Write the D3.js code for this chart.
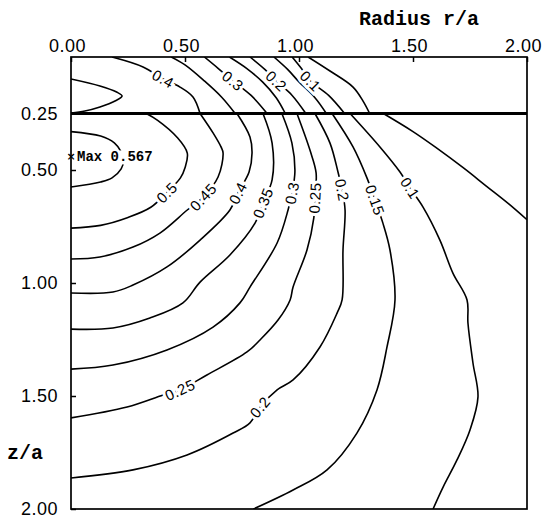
<!DOCTYPE html>
<html>
<head>
<meta charset="utf-8">
<script src="https://cdn.jsdelivr.net/npm/d3@7"></script>
<style>
  body { margin: 0; background: #fff; }
  svg { display: block; }
</style>
</head>
<body>
<div id="chart"></div>
<script>
// axis ticks
var rTicks = [0, 0.5, 1, 1.5, 2];
var zTicks = [0.25, 0.5, 1, 1.5, 2];
var interfaceZ = 0.25;

// maximum
var maxPoint = [0, 0.44];
var maxValue = 0.567;

// contour lines above the interface, points are [r/a, z/a]
var upperContours = [
    { level: 0.45, pts: [[0, .097], [.127, .128], [.20, .155], [.224, .173], [.193, .195], [.127, .221], [.061, .239], [0, .248]] },
    { level: 0.4,  pts: [[.18, 0], [.316, .044], [.404, .097], [.478, .133], [.535, .177], [.566, .25]] },
    { level: 0.35, pts: [[.44, 0], [.50, .035], [.585, .106], [.66, .177], [.72, .25]] },
    { level: 0.3,  pts: [[.585, 0], [.645, .05], [.71, .106], [.79, .17], [.86, .25]] },
    { level: 0.25, pts: [[.695, 0], [.77, .05], [.84, .11], [.90, .18], [.94, .25]] },
    { level: 0.2,  pts: [[.785, 0], [.85, .055], [.90, .106], [.97, .17], [1.03, .25]] },
    { level: 0.15, pts: [[.89, 0], [.95, .055], [1.0, .11], [1.07, .18], [1.12, .25]] },
    { level: 0.1,  pts: [[.97, 0], [1.01, .05], [1.05, .106], [1.13, .17], [1.20, .25]] },
    { level: 0.05, pts: [[1.04, 0], [1.136, .062], [1.237, .133], [1.281, .195], [1.31, .25]] }
];

// contour lines below the interface
var lowerContours = [
    { level: 0.55, pts: [[0, .33], [.13, .35], [.19, .38], [.22, .42], [.23, .46], [.22, .495], [.18, .535], [.13, .553], [0, .575]] },
    { level: 0.5,  pts: [[.33, .25], [.38, .28], [.465, .355], [.51, .425], [.50, .49], [.48, .535], [.42, .60], [.35, .665], [.25, .71], [.13, .745], [0, .757]] },
    { level: 0.45, pts: [[.566, .25], [.623, .336], [.658, .398], [.667, .425], [.645, .531], [.58, .62], [.51, .677], [.39, .779], [.272, .841], [.127, .885], [0, .894]] },
    { level: 0.4,  pts: [[.728, .25], [.785, .354], [.794, .425], [.781, .509], [.732, .602], [.697, .677], [.566, .81], [.421, .929], [.272, 1.009], [.184, 1.04], [0, 1.044]] },
    { level: 0.35, pts: [[.842, .25], [.882, .381], [.882, .544], [.842, .646], [.807, .735], [.697, .876], [.566, .996], [.491, 1.088], [.346, 1.155], [.184, 1.199], [0, 1.204]] },
    { level: 0.3,  pts: [[.925, .25], [.969, .381], [.982, .509], [.969, .602], [.952, .677], [.904, .823], [.785, 1.018], [.741, 1.088], [.623, 1.195], [.421, 1.296], [.184, 1.363], [0, 1.381]] },
    { level: 0.25, pts: [[.991, .25], [1.048, .412], [1.075, .513], [1.07, .624], [1.065, .712], [1.035, .854], [.974, 1.018], [.961, 1.075], [.908, 1.164], [.829, 1.252], [.772, 1.305], [.596, 1.407], [.478, 1.473], [.404, 1.496], [.246, 1.549], [0, 1.597]] },
    { level: 0.2,  pts: [[1.07, .25], [1.136, .381], [1.171, .509], [1.189, .588], [1.202, .677], [1.193, .854], [1.189, 1.075], [1.167, 1.133], [1.092, 1.283], [.974, 1.429], [.904, 1.473], [.829, 1.549], [.785, 1.619], [.711, 1.664], [.509, 1.761], [.272, 1.827], [0, 1.863]] },
    { level: 0.15, pts: [[1.145, .25], [1.237, .398], [1.298, .535], [1.333, .633], [1.368, .735], [1.399, .854], [1.421, 1.075], [1.386, 1.283], [1.342, 1.473], [1.254, 1.664], [1.123, 1.827], [.974, 1.916], [.80, 2.0]] },
    { level: 0.1,  pts: [[1.224, .25], [1.355, .398], [1.443, .509], [1.487, .58], [1.544, .664], [1.618, .81], [1.675, .956], [1.737, 1.075], [1.741, 1.177], [1.763, 1.354], [1.785, 1.504], [1.75, 1.65], [1.693, 1.783], [1.632, 1.903], [1.588, 2.0]] },
    { level: 0.05, pts: [[1.37, .25], [1.5, .33], [1.6, .40], [1.72, .49], [1.82, .57], [1.92, .65], [2.0, .72]] }
];

// contour labels: [level, r/a, z/a]
var upperLabels = [[0.4, .404, .097], [0.3, .71, .106], [0.2, .90, .106], [0.1, 1.05, .106]];
var lowerLabels = [[0.5, .42, .60], [0.45, .58, .62], [0.4, .732, .602], [0.35, .842, .646], [0.3, .969, .602],
    [0.25, 1.07, .624], [0.2, 1.189, .588], [0.15, 1.333, .633], [0.1, 1.487, .58], [0.25, .478, 1.473], [0.2, .829, 1.549]];

var W = 542, H = 520,
    margin = { top: 57, left: 71, right: 15, bottom: 11 };

var x = d3.scaleLinear().domain([0, 2]).range([margin.left, W - margin.right]);
var y = d3.scaleLinear().domain([0, 2]).range([margin.top, H - margin.bottom]);

var svg = d3.select("#chart").append("svg")
    .attr("width", W)
    .attr("height", H);

svg.append("clipPath").attr("id", "plot")
    .append("rect")
    .attr("x", x(0)).attr("y", y(0))
    .attr("width", x(2) - x(0)).attr("height", y(2) - y(0));

var line = d3.line()
    .x(function(d) { return x(d[0]); })
    .y(function(d) { return y(d[1]); })
    .curve(d3.curveCatmullRom.alpha(0.5));

var lines = svg.append("g").attr("clip-path", "url(#plot)");

lines.selectAll(".upper")
    .data(upperContours)
    .enter().append("path")
    .attr("class", "upper")
    .attr("d", function(d) { return line(d.pts); })
    .attr("fill", "none").attr("stroke", "#000").attr("stroke-width", 1.6);

lines.selectAll(".lower")
    .data(lowerContours)
    .enter().append("path")
    .attr("class", "lower")
    .attr("d", function(d) { return line(d.pts); })
    .attr("fill", "none").attr("stroke", "#000").attr("stroke-width", 1.6);

// interface line
svg.append("line")
    .attr("x1", x(0)).attr("x2", x(2))
    .attr("y1", y(interfaceZ)).attr("y2", y(interfaceZ))
    .attr("stroke", "#000").attr("stroke-width", 3);

// frame
svg.append("rect")
    .attr("x", x(0)).attr("y", y(0))
    .attr("width", x(2) - x(0)).attr("height", y(2) - y(0))
    .attr("fill", "none").attr("stroke", "#000").attr("stroke-width", 1.7);

// angle of the contour near a label, kept readable
function angleAt(pts, r, z) {
    var best = 0, bd = Infinity;
    pts.forEach(function(p, i) {
        var d = (p[0] - r) * (p[0] - r) + (p[1] - z) * (p[1] - z);
        if (d < bd) { bd = d; best = i; }
    });
    var a = pts[Math.max(best - 1, 0)], b = pts[Math.min(best + 1, pts.length - 1)];
    var ang = Math.atan2(y(b[1]) - y(a[1]), x(b[0]) - x(a[0])) * 180 / Math.PI;
    if (ang > 90) ang -= 180;
    if (ang <= -90) ang += 180;
    return ang;
}

function drawLabels(labels, contours) {
    labels.forEach(function(l) {
        var c = contours.filter(function(c) { return c.level === l[0]; })[0];
        var ang = angleAt(c.pts, l[1], l[2]);
        svg.append("text")
            .attr("transform", "translate(" + x(l[1]) + "," + y(l[2]) + ") rotate(" + ang + ")")
            .attr("text-anchor", "middle")
            .attr("dy", "0.36em")
            .style("font-family", "'Liberation Sans', Arial, sans-serif")
            .style("font-size", "15px")
            .style("letter-spacing", "0.5px")
            .style("paint-order", "stroke")
            .attr("stroke", "#fff").attr("stroke-width", 6)
            .attr("fill", "#000")
            .text(String(l[0]));
    });
}
drawLabels(upperLabels, upperContours);
drawLabels(lowerLabels, lowerContours);

// maximum marker, the text hides the innermost contour behind it
var maxG = svg.append("g");
var maxText = maxG.append("text")
    .attr("x", x(maxPoint[0]) + 6)
    .attr("y", y(maxPoint[1]) + 5)
    .style("font-family", "'Liberation Mono', monospace")
    .style("font-weight", "bold")
    .style("font-size", "14px")
    .text("Max " + maxValue.toFixed(3));
var bb = maxText.node().getBBox();
maxG.insert("rect", "text")
    .attr("x", bb.x - 1).attr("y", bb.y + 1)
    .attr("width", bb.width + 2).attr("height", bb.height - 2)
    .attr("fill", "#fff");
svg.append("text")
    .attr("x", x(maxPoint[0]))
    .attr("y", y(maxPoint[1]))
    .attr("dy", "0.35em")
    .attr("text-anchor", "middle")
    .style("font-family", "'DejaVu Sans', sans-serif")
    .style("font-weight", "bold")
    .style("font-size", "11px")
    .text("×");

// axes
var xAxis = svg.append("g")
    .attr("transform", "translate(0," + y(0) + ")")
    .call(d3.axisTop(x).tickValues(rTicks).tickFormat(d3.format(".2f"))
        .tickSizeInner(-5).tickSizeOuter(0).tickPadding(5));

var yAxis = svg.append("g")
    .attr("transform", "translate(" + x(0) + ",0)")
    .call(d3.axisLeft(y).tickValues(zTicks).tickFormat(d3.format(".2f"))
        .tickSizeInner(-5).tickSizeOuter(0).tickPadding(13));

[xAxis, yAxis].forEach(function(g) {
    g.select(".domain").remove();
    g.selectAll(".tick line").attr("stroke", "#000").attr("stroke-width", 1.5);
    g.selectAll(".tick text")
        .style("font-family", "'Liberation Sans', Arial, sans-serif")
        .style("font-size", "18px")
        .style("letter-spacing", "0.5px")
        .attr("fill", "#000");
});
xAxis.selectAll(".tick text").attr("dx", "-4");

// axis titles
svg.append("text")
    .attr("x", 479).attr("y", 25)
    .attr("text-anchor", "end")
    .style("font-family", "'Liberation Mono', monospace")
    .style("font-weight", "bold")
    .style("font-size", "20px")
    .text("Radius r/a");

svg.append("text")
    .attr("x", 7).attr("y", 459)
    .style("font-family", "'Liberation Mono', monospace")
    .style("font-weight", "bold")
    .style("font-size", "20px")
    .text("z/a");
</script>
</body>
</html>
